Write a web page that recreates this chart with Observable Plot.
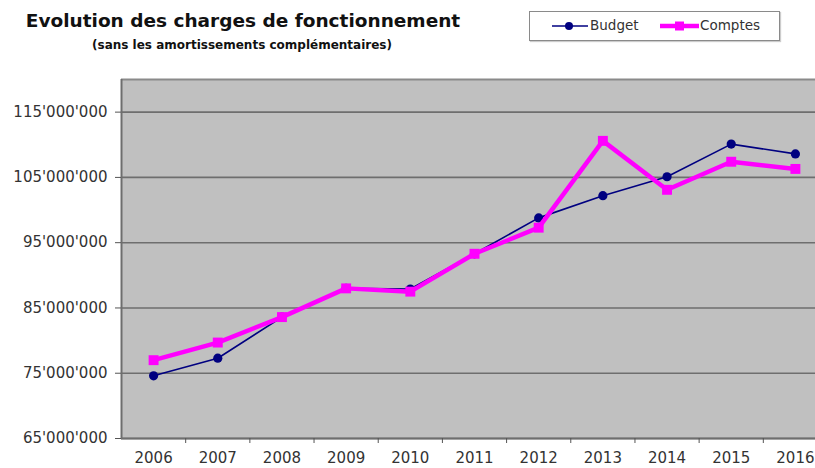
<!DOCTYPE html>
<html>
<head>
<meta charset="utf-8">
<script src="https://cdn.jsdelivr.net/npm/d3@7"></script>
<script src="https://cdn.jsdelivr.net/npm/@observablehq/plot@0.6"></script>
<style>
  html, body { margin: 0; padding: 0; background: #fff; overflow: hidden; }
  #wrap { width: 815px; height: 468px; position: relative; }
  #header { position: relative; width: 815px; height: 56px; }
  #title { position: absolute; left: 0; width: 486px; top: 10px; text-align: center;
           font-family: "DejaVu Sans", sans-serif; font-weight: bold; font-size: 18.5px; color: #111; }
  #subtitle { position: absolute; left: 0; width: 484px; top: 38px; text-align: center;
           font-family: "DejaVu Sans", sans-serif; font-weight: bold; font-size: 12px; color: #111; }
  #legend { position: absolute; left: 529px; top: 11px; width: 249px; height: 28px;
            border: 1px solid #8a8a8a; box-shadow: 1px 1px 1px #ccc; background: #fff;
            font-family: "DejaVu Sans", sans-serif; font-size: 13.5px; color: #333; }
  #legend svg { position: absolute; left: 0; top: 0; }
  .lg { position: absolute; top: 5px; }
</style>
</head>
<body>
<div id="wrap">
  <div id="header">
    <div id="title">Evolution des charges de fonctionnement</div>
    <div id="subtitle">(sans les amortissements complémentaires)</div>
    <div id="legend"></div>
  </div>
  <div id="chart"></div>
</div>
<script>
const years = [2006, 2007, 2008, 2009, 2010, 2011, 2012, 2013, 2014, 2015, 2016];
const budget = [74600000, 77300000, 83600000, 88000000, 87900000, 93300000, 98800000, 102200000, 105100000, 110100000, 108600000];
const comptes = [77000000, 79700000, 83600000, 88000000, 87500000, 93300000, 97300000, 110600000, 103100000, 107400000, 106300000];
const yTicks = [65000000, 75000000, 85000000, 95000000, 105000000, 115000000];
const seriesNames = ["Budget", "Comptes"];
const colors = ["#000080", "#ff00ff"];

const budgetData = years.map((y, i) => ({year: y, value: budget[i]}));
const comptesData = years.map((y, i) => ({year: y, value: comptes[i]}));
const boundaries = years.slice(0, -1).map(y => y + 0.5);
const fmt = v => d3.format(",")(v).replace(/,/g, "'");

const chart = Plot.plot({
  width: 815,
  height: 412,
  marginTop: 23,
  marginBottom: 30,
  marginLeft: 121,
  marginRight: 0,
  style: {fontFamily: "DejaVu Sans, sans-serif", fontSize: "15px", color: "#333", background: "transparent"},
  x: {type: "linear", domain: [2005.5, 2016.5], range: [121, 827]},
  y: {domain: [65000000, 120000000]},
  marks: [
    Plot.frame({fill: "#c0c0c0", stroke: null}),
    Plot.gridY(yTicks, {stroke: "#6e6e6e", strokeOpacity: 1, strokeWidth: 1.6}),
    Plot.ruleY([120000000], {stroke: "#8a8a8a", strokeWidth: 2}),
    Plot.ruleX([2005.5], {stroke: "#6e6e6e", strokeWidth: 2}),
    Plot.ruleY([65000000], {stroke: "#6e6e6e", strokeWidth: 2}),
    Plot.axisY({ticks: yTicks, tickFormat: fmt, tickSize: 6, tickPadding: 8, stroke: "#555", label: null}),
    Plot.axisX({ticks: boundaries, tickFormat: () => "", tickSize: 5, stroke: "#555", label: null}),
    Plot.axisX({ticks: years, tickFormat: d => String(d), tickSize: 0, tickPadding: 14, label: null}),
    Plot.line(budgetData, {x: "year", y: "value", stroke: colors[0], strokeWidth: 1.6}),
    Plot.dot(budgetData, {x: "year", y: "value", symbol: "circle", r: 4.6, fill: colors[0], stroke: null}),
    Plot.line(comptesData, {x: "year", y: "value", stroke: colors[1], strokeWidth: 4.5}),
    Plot.dot(comptesData, {x: "year", y: "value", symbol: "square", r: 5.6, fill: colors[1], stroke: null})
  ]
});
document.getElementById("chart").appendChild(chart);

// legend
const lg = document.getElementById("legend");
const ns = "http://www.w3.org/2000/svg";
const sw = document.createElementNS(ns, "svg");
sw.setAttribute("width", 249); sw.setAttribute("height", 28);
sw.innerHTML =
  `<line x1="22" x2="58" y1="14" y2="14" stroke="${colors[0]}" stroke-width="1.6"/>` +
  `<circle cx="39" cy="14" r="4" fill="${colors[0]}"/>` +
  `<line x1="130" x2="169" y1="14" y2="14" stroke="${colors[1]}" stroke-width="4.5"/>` +
  `<rect x="145" y="9.5" width="9" height="9" fill="${colors[1]}"/>`;
lg.appendChild(sw);
const t1 = document.createElement("span"); t1.className = "lg"; t1.style.left = "60px"; t1.textContent = seriesNames[0];
const t2 = document.createElement("span"); t2.className = "lg"; t2.style.left = "170px"; t2.textContent = seriesNames[1];
lg.appendChild(t1); lg.appendChild(t2);
</script>
</body>
</html>
